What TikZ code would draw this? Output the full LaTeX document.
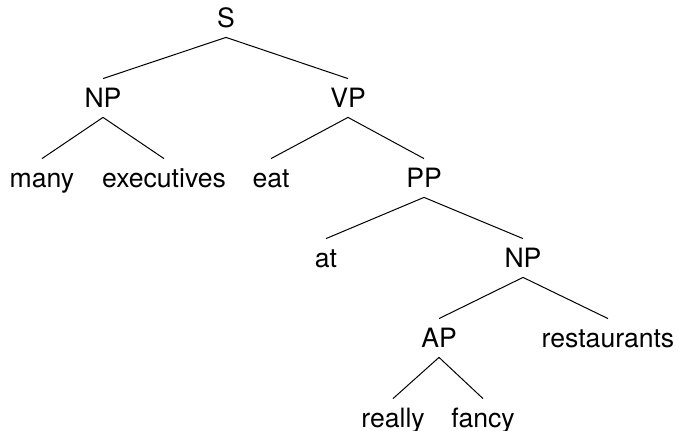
\documentclass[tikz,border=0pt]{standalone}
\usepackage{fontspec}
\setmainfont{TeX Gyre Heros}
\usepackage{tikz}
\usetikzlibrary{positioning}
\tikzstyle{parseTree} = [x = 0.5pt, y = -0.5pt]
\tikzstyle{treeLabel} = [anchor = base, inner sep = 0pt, text height = 14.5pt, text depth = 4.5pt, font = \fontsize{13.3}{16}\selectfont]
\tikzstyle{treeEdge} = [color = black, line width = .5pt]
\newcommand{\rowHeight}{80}
\newcommand{\treeNode}[4]{\node [treeLabel] (#1) at (#2, 28 + #3 * \rowHeight) {#4};}
\newcommand{\branch}[2]{\draw [treeEdge] (#1.south) -- (#2.north);}

\begin{document}
\begin{tikzpicture}[parseTree]
    \useasboundingbox (0,0) rectangle (679,431);
    \treeNode{s}{226}{0}{S}
    \treeNode{np}{103}{1}{NP}
    \treeNode{vp}{348}{1}{VP}
    \treeNode{many}{42}{2}{many}
    \treeNode{executives}{164}{2}{executives}
    \treeNode{eat}{271}{2}{eat}
    \treeNode{pp}{424}{2}{PP}
    \treeNode{at}{326}{3}{at}
    \treeNode{npInner}{523}{3}{NP}
    \treeNode{ap}{439}{4}{AP}
    \treeNode{restaurants}{608}{4}{restaurants}
    \treeNode{really}{393}{5}{really}
    \treeNode{fancy}{483}{5}{fancy}
    \branch{s}{np}
    \branch{s}{vp}
    \branch{np}{many}
    \branch{np}{executives}
    \branch{vp}{eat}
    \branch{vp}{pp}
    \branch{pp}{at}
    \branch{pp}{npInner}
    \branch{npInner}{ap}
    \branch{npInner}{restaurants}
    \branch{ap}{really}
    \branch{ap}{fancy}
\end{tikzpicture}
\end{document}
